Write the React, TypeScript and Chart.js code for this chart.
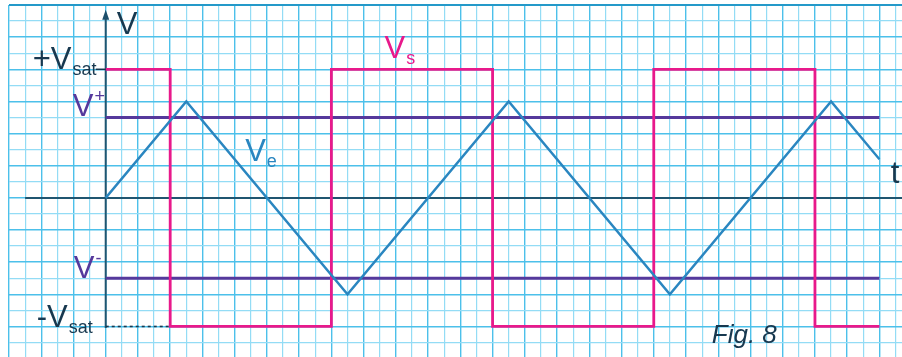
import React, { useEffect, useRef } from "react";
import { Chart, registerables } from "chart.js";

Chart.register(...registerables);

// Time (grid cells) and voltage (grid cells)
const squareT = [0, 4, 4, 14, 14, 24, 24, 34, 34, 44, 44, 48];
const squareV = [8, 8, -8, -8, 8, 8, -8, -8, 8, 8, -8, -8];
const triangleT = [0, 5, 15, 25, 35, 45, 48];
const triangleV = [0, 6, -6, 6, -6, 6, 2.4];
const thresholdT = [0, 48];
const vPlus = [5, 5];
const vMinus = [-5, -5];
const negSatT = [0, 4];
const negSatV = [-8, -8];
const xAxisT = [-5, 49.4];
const xAxisV = [0, 0];
const yAxisT = [0, 0];
const yAxisV = [-8.1, 11.2];

const X_MIN = -6;
const X_MAX = 49.4;
const Y_MIN = -9.9;
const Y_MAX = 12;

const NAVY = "#17384f";
const PURPLE = "#55399c";
const MAGENTA = "#e8198b";
const BLUE = "#2a86c0";

function pts(ts: number[], vs: number[]) {
  return ts.map((t, i) => ({ x: t, y: vs[i] }));
}

function intTicks(min: number, max: number) {
  const out: { value: number }[] = [];
  for (let v = Math.ceil(min); v <= Math.floor(max); v++) out.push({ value: v });
  return out;
}

export default function App() {
  const ref = useRef<HTMLCanvasElement>(null);

  useEffect(() => {
    const labelPlugin = {
      id: "labels",
      afterDatasetsDraw(chart: any) {
        const ctx = chart.ctx as CanvasRenderingContext2D;
        const xs = chart.scales.x;
        const ys = chart.scales.y;
        const X = (t: number) => xs.getPixelForValue(t);
        const Y = (v: number) => ys.getPixelForValue(v);
        const FONT = '"Liberation Sans", Arial, sans-serif';

        const label = (
          main: string,
          sub: string,
          mode: "sub" | "sup",
          x: number,
          y: number,
          color: string,
          size = 31,
          subSize = 18
        ) => {
          ctx.save();
          ctx.fillStyle = color;
          ctx.textBaseline = "alphabetic";
          ctx.textAlign = "left";
          ctx.font = `${size}px ${FONT}`;
          ctx.fillText(main, x, y);
          const w = ctx.measureText(main).width;
          if (sub) {
            ctx.font = `${subSize}px ${FONT}`;
            ctx.fillText(sub, x + w + 1, mode === "sub" ? y + 6 : y - 14);
          }
          ctx.restore();
        };

        // arrow on the vertical axis
        ctx.save();
        ctx.fillStyle = "#1d4f6b";
        const ax = X(0);
        const ay = Y(11.2);
        ctx.beginPath();
        ctx.moveTo(ax, ay - 8);
        ctx.lineTo(ax - 3.5, ay + 2);
        ctx.lineTo(ax + 3.5, ay + 2);
        ctx.closePath();
        ctx.fill();
        // +Vsat tick
        ctx.strokeStyle = NAVY;
        ctx.lineWidth = 1.5;
        ctx.beginPath();
        ctx.moveTo(X(0) - 10, Y(8));
        ctx.lineTo(X(0), Y(8));
        ctx.stroke();
        ctx.restore();

        label("V", "", "sub", X(0) + 11, Y(0) - 164, NAVY, 31);
        label("+V", "sat", "sub", X(0) - 73, Y(8) + 0, NAVY, 31, 18);
        label("V", "+", "sup", X(0) - 33, Y(5) - 2, PURPLE, 31, 18);
        label("V", "-", "sup", X(0) - 32, Y(-5) + 0, PURPLE, 31, 18);
        label("-V", "sat", "sub", X(0) - 69, Y(-8) + 1, NAVY, 31, 18);
        label("V", "s", "sub", X(17.3), Y(8.7), MAGENTA, 31, 18);
        label("V", "e", "sub", X(8.65), Y(2.3), BLUE, 31, 18);
        label("t", "", "sub", X(48.7), Y(0.95), NAVY, 31);
        ctx.save();
        ctx.fillStyle = NAVY;
        ctx.font = `italic 26px ${FONT}`;
        ctx.textBaseline = "alphabetic";
        ctx.fillText("Fig. 8", X(37.6), Y(-9.0));
        ctx.restore();
      },
    };

    const gridColor = (ctx: any) => {
      const v = ctx.tick ? ctx.tick.value : 0;
      if (v === Y_MAX && ctx.scale && ctx.scale.axis === "y") return "#2499c9";
      return Math.abs(v) % 2 === 0 ? "#4cc0ea" : "#93dcf5";
    };
    const gridWidth = (ctx: any) => {
      const v = ctx.tick ? ctx.tick.value : 0;
      if (v === Y_MAX && ctx.scale && ctx.scale.axis === "y") return 2;
      return Math.abs(v) % 2 === 0 ? 1.4 : 1.2;
    };

    const chart = new Chart(ref.current as HTMLCanvasElement, {
      type: "line",
      data: {
        datasets: [
          {
            data: pts(triangleT, triangleV),
            borderColor: BLUE,
            borderWidth: 2.4,
          },
          {
            data: pts(squareT, squareV),
            borderColor: MAGENTA,
            borderWidth: 2.8,
          },
          {
            data: pts(thresholdT, vPlus),
            borderColor: PURPLE,
            borderWidth: 2.8,
          },
          {
            data: pts(thresholdT, vMinus),
            borderColor: PURPLE,
            borderWidth: 2.8,
          },
          {
            data: pts(negSatT, negSatV),
            borderColor: NAVY,
            borderWidth: 1.6,
            borderDash: [3, 3],
          },
          {
            data: pts(xAxisT, xAxisV),
            borderColor: "#1f5570",
            borderWidth: 2,
          },
          {
            data: pts(yAxisT, yAxisV),
            borderColor: "#1f5570",
            borderWidth: 2,
          },
        ] as any,
      },
      options: {
        animation: false,
        responsive: false,
        layout: { padding: { left: 9, top: 5, right: 0, bottom: 0 } },
        elements: {
          point: { radius: 0, hoverRadius: 0 },
          line: { tension: 0, fill: false },
        },
        plugins: {
          legend: { display: false },
          tooltip: { enabled: false },
        },
        scales: {
          x: {
            type: "linear",
            min: X_MIN,
            max: X_MAX,
            ticks: { display: false },
            border: { display: false },
            grid: { color: gridColor, lineWidth: gridWidth, drawTicks: false },
            afterBuildTicks: (s: any) => {
              s.ticks = intTicks(X_MIN, X_MAX);
            },
          },
          y: {
            type: "linear",
            min: Y_MIN,
            max: Y_MAX,
            ticks: { display: false },
            border: { display: false },
            grid: { color: gridColor, lineWidth: gridWidth, drawTicks: false },
            afterBuildTicks: (s: any) => {
              s.ticks = intTicks(Y_MIN, Y_MAX);
            },
          },
        },
      } as any,
      plugins: [labelPlugin],
    });
    return () => chart.destroy();
  }, []);

  return (
    <div style={{ position: "fixed", left: 0, top: 0, width: 902, height: 357, background: "#fff" }}>
      <canvas ref={ref} width={902} height={357} style={{ display: "block" }} />
    </div>
  );
}
